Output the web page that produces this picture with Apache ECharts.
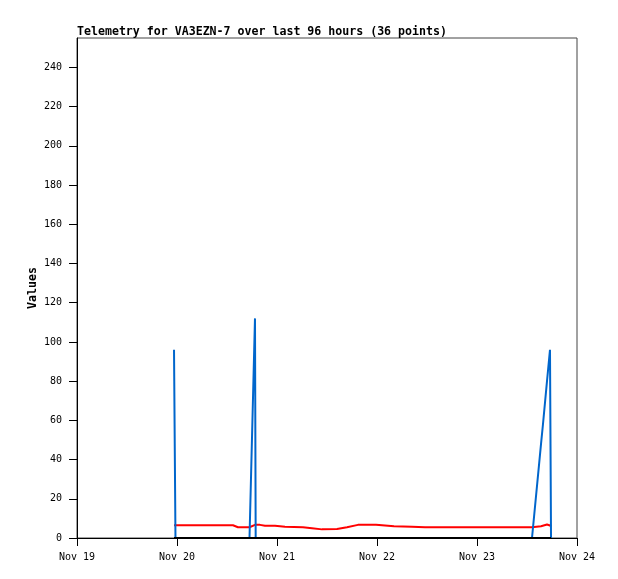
<!DOCTYPE html>
<html>
<head>
<meta charset="utf-8">
<script src="https://cdn.jsdelivr.net/npm/echarts@6/dist/echarts.min.js"></script>
<style>
html,body{margin:0;padding:0;background:#fff;}
#chart{width:618px;height:579px;}
</style>
</head>
<body>
<div id="chart"></div>
<script>
// Sample times (UTC, Nov 2023)
const times = [
  '2023-11-19T23:17','2023-11-19T23:38','2023-11-20T03:07','2023-11-20T06:43','2023-11-20T10:19',
  '2023-11-20T13:26','2023-11-20T14:38','2023-11-20T17:24','2023-11-20T18:43','2023-11-20T18:53',
  '2023-11-20T19:55','2023-11-20T21:07','2023-11-20T23:31','2023-11-21T01:55','2023-11-21T06:14',
  '2023-11-21T08:24','2023-11-21T10:48','2023-11-21T14:24','2023-11-21T16:48','2023-11-21T19:26',
  '2023-11-21T23:46','2023-11-22T04:05','2023-11-22T08:24','2023-11-22T11:31','2023-11-22T15:07',
  '2023-11-22T18:43','2023-11-22T22:19','2023-11-23T01:55','2023-11-23T05:31','2023-11-23T09:07',
  '2023-11-23T13:12','2023-11-23T15:22','2023-11-23T15:50','2023-11-23T16:48','2023-11-23T17:31',
  '2023-11-23T17:46'
];
const redValues = [6.5,6.5,6.5,6.5,6.5,6.5,5.5,5.5,6.7,6.7,6.7,6.2,6.2,5.7,5.5,5.0,4.4,4.6,5.5,6.7,
  6.7,6.0,5.8,5.5,5.5,5.5,5.5,5.5,5.5,5.5,5.5,6.0,6.2,6.9,6.4,5.8];
const blueValues = [96,0,0,0,0,0,0,0,112,0,0,0,0,0,0,0,0,0,0,0,
  0,0,0,0,0,0,0,0,0,0,0,48,58,80,96,0];
const blackValues = [0,0,0,0,0,0,0,0,0,0,0,0,0,0,0,0,0,0,0,0,
  0,0,0,0,0,0,0,0,0,0,0,0,0,0,0,0];
const yTicks = [0,20,40,60,80,100,120,140,160,180,200,220,240];
const xStart = '2023-11-19T00:00';
const xEnd = '2023-11-24T00:00';
const monthNames = ['Jan','Feb','Mar','Apr','May','Jun','Jul','Aug','Sep','Oct','Nov','Dec'];
const titleText = 'Telemetry for VA3EZN-7 over last 96 hours (36 points)';

function ts(s){ return Date.parse(s + ':00Z'); }
const tsList = times.map(ts);
const pairs = vals => tsList.map((t,i)=>[t, vals[i]]);
const DAY = 86400000;
const font = 'DejaVu Sans Mono';

const chart = echarts.init(document.getElementById('chart'), null, {renderer:'canvas'});
chart.setOption({
  animation: false,
  backgroundColor: '#fff',
  title: {
    text: titleText, left: 77, top: 26, padding: 0,
    textStyle: {fontFamily: font, fontWeight: 'bold', fontSize: 11.6, color: '#000'}
  },
  grid: {left: 77, right: 41, top: 38, bottom: 41, show: true, borderColor: '#444', borderWidth: 1, backgroundColor: 'transparent'},
  xAxis: {
    type: 'value', min: ts(xStart), max: ts(xEnd), interval: DAY,
    axisLine: {lineStyle: {color: '#000', width: 1}},
    axisTick: {length: 8, lineStyle: {color: '#000'}},
    splitLine: {show: false},
    axisLabel: {
      margin: 14, color: '#000', fontFamily: font, fontSize: 10,
      formatter: v => { const d = new Date(v); return monthNames[d.getUTCMonth()] + ' ' + d.getUTCDate(); }
    }
  },
  yAxis: {
    type: 'value', min: 0, max: 255,
    name: 'Values', nameLocation: 'middle', nameGap: 38, nameRotate: 90, nameMoveOverlap: false,
    nameTextStyle: {fontFamily: font, fontWeight: 'bold', fontSize: 11.6, color: '#000'},
    axisLine: {show: true, lineStyle: {color: '#000', width: 1}},
    axisTick: {show: true, length: 8, customValues: yTicks, lineStyle: {color: '#000'}},
    splitLine: {show: false},
    axisLabel: {customValues: yTicks, margin: 15, color: '#000', fontFamily: font, fontSize: 10}
  },
  series: [
    {type: 'line', data: pairs(redValues), symbol: 'none', lineStyle: {color: '#ff0000', width: 2}, itemStyle:{color:'#ff0000'}},
    {type: 'line', data: pairs(blueValues), symbol: 'none', lineStyle: {color: '#0066cc', width: 2}, itemStyle:{color:'#0066cc'}},
    {type: 'line', data: pairs(blackValues), symbol: 'none', lineStyle: {color: '#000000', width: 2}, itemStyle:{color:'#000'}}
  ]
});
</script>
</body>
</html>
